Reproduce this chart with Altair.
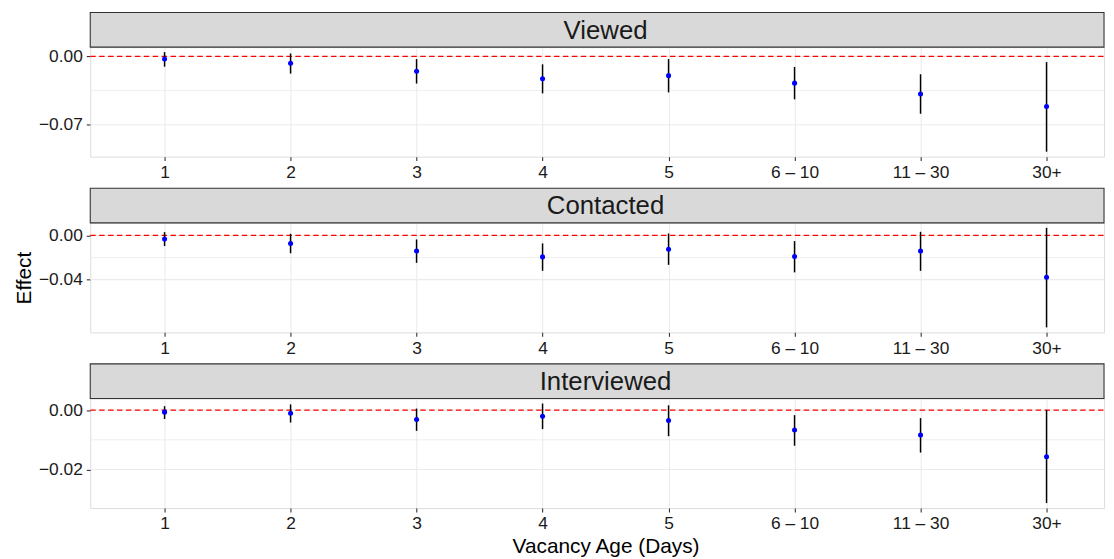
import altair as alt
import pandas as pd

# ---- data ----
categories = ["1", "2", "3", "4", "5", "6 – 10", "11 – 30", "30+"]
outcomes = ["Viewed", "Contacted", "Interviewed"]

viewed_est = [-0.0027, -0.0071, -0.0152, -0.0230, -0.0197, -0.0274, -0.0385, -0.0514]
viewed_low = [-0.0105, -0.0176, -0.0278, -0.0379, -0.0369, -0.0440, -0.0588, -0.0977]
viewed_high = [0.0044, 0.0030, -0.0027, -0.0081, -0.0027, -0.0108, -0.0183, -0.0058]

contacted_est = [-0.0033, -0.0072, -0.0140, -0.0194, -0.0125, -0.0191, -0.0140, -0.0379]
contacted_low = [-0.0096, -0.0161, -0.0248, -0.0320, -0.0266, -0.0334, -0.0320, -0.0832]
contacted_high = [0.0030, 0.0015, -0.0036, -0.0072, 0.0018, -0.0051, 0.0033, 0.0069]

interviewed_est = [-0.0007, -0.0011, -0.0032, -0.0021, -0.0035, -0.0067, -0.0084, -0.0157]
interviewed_low = [-0.0030, -0.0042, -0.0070, -0.0064, -0.0088, -0.0120, -0.0143, -0.0313]
interviewed_high = [0.0013, 0.0019, 0.0005, 0.0022, 0.0016, -0.0017, -0.0027, 0.0000]

major_breaks = [[0.0, -0.07], [0.0, -0.04], [0.0, -0.02]]
minor_breaks = [[-0.035], [-0.02], [-0.01]]
reference_line = [0.0]

x_title = "Vacancy Age (Days)"
y_title = "Effect"

# ---- layout / style ----
W = 1023
H = 110.5
STRIP = 35
FONT = "Liberation Sans"
GRID = "#EBEBEB"
DARK = "#333333"
TXT = "#1A1A1A"


def panel(name, est, low, high, major, minor, show_ytitle, show_xtitle):
    df = pd.DataFrame({"age": categories, "est": est, "low": low, "high": high})
    span = max(high) - min(low)
    yscale = alt.Scale(domain=[min(low) - 0.05 * span, max(high) + 0.05 * span],
                       nice=False, zero=False)
    xscale = alt.Scale(type="point", range=[75, 965], padding=0)

    xaxis_kw = dict(labelAngle=0, grid=True, gridColor=GRID, gridWidth=1.1,
                    domain=False, tickColor=DARK, tickSize=4, tickWidth=1.1,
                    labelPadding=3, labelFontSize=17.5, labelColor=TXT,
                    labelFont=FONT, titleFont=FONT, titleFontSize=21,
                    titleFontWeight="normal", titleColor="#000000", titlePadding=3)
    if show_xtitle:
        xaxis_kw["title"] = x_title
        xaxis_kw["titleX"] = 520
    else:
        xaxis_kw["title"] = ""
    yaxis_kw = dict(values=major, format=".2f", grid=False,
                    domain=False, tickColor=DARK, tickSize=4, tickWidth=1.1,
                    labelPadding=4, labelFontSize=17.5, labelColor=TXT,
                    labelFont=FONT, titleFont=FONT, titleFontSize=21,
                    titleFontWeight="normal", titleColor="#000000", titlePadding=4)
    yaxis_kw["title"] = y_title if show_ytitle else ""
    yaxis = alt.Axis(**yaxis_kw)
    xenc = alt.X("age:N", sort=categories, scale=xscale, axis=alt.Axis(**xaxis_kw))

    base = alt.Chart(df)
    minor_grid = alt.Chart(pd.DataFrame({"v": minor})).mark_rule(
        color=GRID, strokeWidth=0.8).encode(
        x=alt.value(0), x2=alt.value(W), y=alt.Y("v:Q", scale=yscale, axis=yaxis))
    major_grid = alt.Chart(pd.DataFrame({"v": major})).mark_rule(
        color=GRID, strokeWidth=1.1).encode(
        x=alt.value(0), x2=alt.value(W), y=alt.Y("v:Q", scale=yscale, axis=yaxis))
    zero = alt.Chart(pd.DataFrame({"v": reference_line})).mark_rule(
        color="#FF0000", strokeDash=[5.5, 3.5], strokeWidth=1.3).encode(
        x=alt.value(0), x2=alt.value(W), y=alt.Y("v:Q", scale=yscale, axis=yaxis))
    bars = base.mark_rule(color="#000000", strokeWidth=1.5).encode(
        x=xenc, y=alt.Y("low:Q", scale=yscale, axis=yaxis), y2="high:Q")
    pts = base.mark_circle(color="#0000FF", size=26, opacity=1).encode(
        x=xenc, y=alt.Y("est:Q", scale=yscale, axis=yaxis))

    strip_df = pd.DataFrame({"label": [name]})
    strip = alt.Chart(strip_df).mark_rect(
        fill="#D9D9D9", stroke=DARK, strokeWidth=1.1).encode(
        x=alt.value(0), x2=alt.value(W), y=alt.value(-STRIP), y2=alt.value(0))
    strip_txt = alt.Chart(strip_df).mark_text(
        font=FONT, fontSize=26, color=TXT, align="center", baseline="middle").encode(
        x=alt.value(520), y=alt.value(-STRIP / 2 + 1), text="label:N")

    return alt.layer(minor_grid, major_grid, zero, bars, pts, strip, strip_txt).properties(
        width=W, height=H)


p1 = panel(outcomes[0], viewed_est, viewed_low, viewed_high,
           major_breaks[0], minor_breaks[0], False, False)
p2 = panel(outcomes[1], contacted_est, contacted_low, contacted_high,
           major_breaks[1], minor_breaks[1], True, False)
p3 = panel(outcomes[2], interviewed_est, interviewed_low, interviewed_high,
           major_breaks[2], minor_breaks[2], False, True)

chart = alt.vconcat(p1, p2, p3, spacing=66.3, bounds="flush").properties(
    padding={"left": 5, "top": 0, "right": 0, "bottom": 0}
).configure_view(stroke=DARK, strokeWidth=1.1).configure(font=FONT)

chart.save("out.html", embed_options={"renderer": "svg", "actions": False})
